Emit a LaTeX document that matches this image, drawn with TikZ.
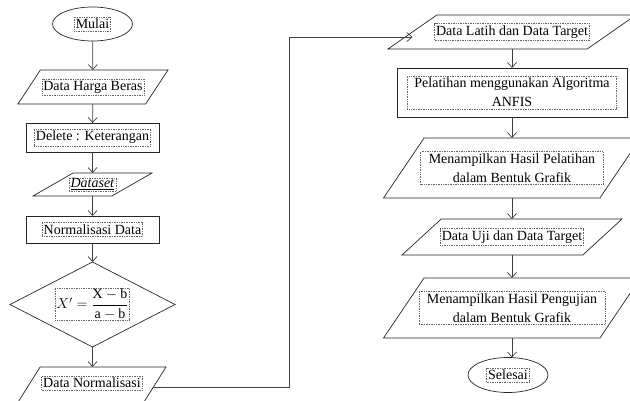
\documentclass[tikz,border=0pt]{standalone}
\usepackage{amsmath}
\usepackage{fontspec}
\setmainfont{Liberation Serif}
\usetikzlibrary{arrows.meta,shapes.geometric}

\begin{document}
\begin{tikzpicture}[x=1pt, y=-1pt,
    font=\fontsize{14}{19}\selectfont,
    every node/.style={outer sep=0pt, line width=0.7pt, draw=black!85},
    term/.style={draw, ellipse, minimum width=80pt, minimum height=34pt, inner sep=1pt},
    io/.style 2 args={draw, trapezium, trapezium stretches=true,
                      trapezium left angle=#1, trapezium right angle=#2, inner sep=2pt},
    proc/.style={draw, rectangle, inner sep=1pt},
    dec/.style={draw, diamond, minimum width=165pt, minimum height=85pt, inner sep=1pt},
    txt/.style={draw=black!60, densely dotted, line width=0.6pt, align=center,
                inner xsep=1.5pt, inner ysep=2pt},
    arr/.style={-{Straight Barb[length=5pt,width=9pt]}, line width=0.7pt, draw=black!75}]
    \useasboundingbox (0,0) rectangle (630,401);
    \clip (0,0) rectangle (630,401);
    % kolom kiri
    \node[term] (mulai) at (92.5,24) {};
    \node[txt] (mulai-t) at (mulai) {Mulai};
    \node[io={78}{102}, minimum width=150pt, minimum height=34pt] (harga) at (93,87) {};
    \node[txt] (harga-t) at (harga) {Data Harga Beras};
    \node[proc, minimum width=133pt, minimum height=29pt] (hapus) at (92.5,137.5) {};
    \node[txt] (hapus-t) at (hapus) {Delete : Keterangan};
    \node[io={44}{136}, minimum width=119pt, minimum height=23pt] (dataset) at (92.5,184.5) {};
    \node[txt, inner ysep=0.5pt] (dataset-t) at (dataset) {\underline{\textit{Dataset}}};
    \node[proc, minimum width=133pt, minimum height=27pt] (norm) at (92.5,229.5) {};
    \node[txt] (norm-t) at (norm) {Normalisasi Data};
    \node[dec] (rumus) at (92.5,304.5) {};
    \node[txt, inner sep=1pt] (rumus-t) at (rumus)
      {$X' = \dfrac{\mathrm{X}-\mathrm{b}}{\mathrm{a}-\mathrm{b}}$};
    \node[io={76}{104}, minimum width=151pt, minimum height=40pt] (datanorm) at (90.5,387) {};
    \node[txt] (datanorm-t) at (92,383) {Data Normalisasi};
    % kolom kanan
    \node[io={72}{108}, minimum width=248pt, minimum height=34pt] (latih) at (512,32) {};
    \node[txt] (latih-t) at (latih) {Data Latih dan Data Target};
    \node[proc, minimum width=230pt, minimum height=49pt] (anfis) at (512,92.5) {};
    \node[txt, inner xsep=7pt] (anfis-t) at (anfis) {Pelatihan menggunakan Algoritma\\ANFIS};
    \node[io={77}{103}, minimum width=257pt, minimum height=60pt] (hasillatih) at (512,168) {};
    \node[txt, inner xsep=8pt] (hasillatih-t) at (hasillatih) {Menampilkan Hasil Pelatihan\\dalam Bentuk Grafik};
    \node[io={74.5}{105.5}, minimum width=220pt, minimum height=36pt] (uji) at (512,237) {};
    \node[txt] (uji-t) at (uji) {Data Uji dan Data Target};
    \node[io={77}{103}, minimum width=257pt, minimum height=60pt] (hasiluji) at (512,308) {};
    \node[txt, inner xsep=8pt] (hasiluji-t) at (hasiluji) {Menampilkan Hasil Pengujian\\dalam Bentuk Grafik};
    \node[term, minimum height=35pt] (selesai) at (508,375) {};
    \node[txt] (selesai-t) at (selesai) {Selesai};
    \coordinate (belok) at (289,37);
    % panah
    \draw[arr] (mulai) -- (harga);
    \draw[arr] (harga) -- (hapus);
    \draw[arr] (hapus) -- (dataset);
    \draw[arr] (dataset) -- (norm);
    \draw[arr] (norm) -- (rumus);
    \draw[arr] (rumus.south) -- (rumus.south |- datanorm.north);
    \draw[arr] (datanorm.east) -| (belok) -- (belok -| latih.west);
    \draw[arr] (latih) -- (anfis);
    \draw[arr] (anfis) -- (hasillatih);
    \draw[arr] (hasillatih) -- (uji);
    \draw[arr] (uji) -- (hasiluji);
    \draw[arr] (hasiluji.south) -- (hasiluji.south |- selesai.north);
\end{tikzpicture}
\end{document}
